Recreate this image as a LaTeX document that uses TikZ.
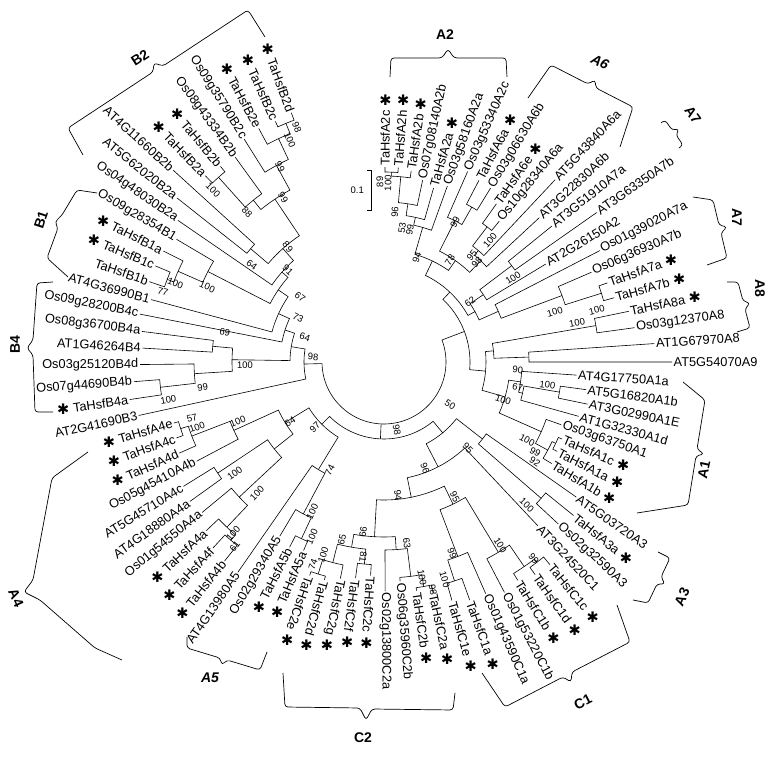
\documentclass[tikz,border=0pt]{standalone}
\usepackage{fontspec}
\setmainfont{Liberation Sans}
\newfontfamily\symfont{DejaVu Sans}
\usepackage{tikz}
\usetikzlibrary{calc}

\tikzset{
  branch/.style={line width=0.6pt},
  leaflab/.style={inner sep=1.5pt, font=\fontsize{12.8}{14}\selectfont},
  bslab/.style={inner sep=0pt, font=\fontsize{9.5}{11}\selectfont},
  starlab/.style={inner sep=0pt, font=\symfont\fontsize{14.5}{14.5}\selectfont},
  grp/.style={font=\bfseries\fontsize{14}{16}\selectfont},
  grpit/.style={font=\bfseries\itshape\fontsize{14}{16}\selectfont},
  brc/.style={line width=0.7pt, rounded corners=3pt},
}

% leaf: index, name, star (1/0), radius where the name starts
\newcommand\leaf[4]{%
  \pgfmathsetmacro\la{89.7-3.9*(#1-1)}%
  \expandafter\xdef\csname a@L#1\endcsname{\la}%
  \pgfmathsetmacro\lr{#4-2}%
  \coordinate (L#1) at ($(C)+(\la:\lr)$);
  \ifdim\la pt>-111pt
    \node[leaflab,anchor=west,rotate=\la] (T#1) at (L#1) {#2};
    \ifnum#3=1 \node[starlab] (S#1) at ($(T#1.east)!-8.5pt!(T#1.west)$) {✱};\fi
  \else
    \pgfmathsetmacro\lb{\la+180}%
    \node[leaflab,anchor=east,rotate=\lb] (T#1) at (L#1) {#2};
    \ifnum#3=1 \node[starlab] (S#1) at ($(T#1.west)!-8.5pt!(T#1.east)$) {✱};\fi
  \fi
}

% bootstrap value: node name, angle, radius, text
\newcommand\bsv[4]{%
  \pgfmathtruncatemacro\fl{cos(#2)>-0.17}%
  \ifnum\fl=1 \def\br{#2}\else\pgfmathsetmacro\br{#2+180}\fi
  \node[bslab,rotate=\br] (bs#1) at ($(C)+(#2:#3)$) {#4};
}

% clade: name, radius, first child, second child, value, value angle, value radius
\newcommand\clade[7]{%
  \pgfmathsetmacro\ca{\csname a@#3\endcsname}%
  \pgfmathsetmacro\cb{\csname a@#4\endcsname}%
  \pgfmathsetmacro\cm{(\ca+\cb)/2}%
  \expandafter\xdef\csname a@#1\endcsname{\cm}%
  \coordinate (#1) at ($(C)+(\cm:#2)$);
  \draw[branch] (#3) -- ($(C)+(\ca:#2)$) arc[start angle=\ca, end angle=\cb, radius=#2] -- (#4);
  \if\relax\detokenize{#5}\relax\else\bsv{#1}{#6}{#7}{#5}\fi
}

% extra stem from a radius to a child
\newcommand\stem[2]{%
  \pgfmathsetmacro\ca{\csname a@#2\endcsname}%
  \draw[branch] ($(C)+(\ca:#1)$) -- (#2);
}

\begin{document}
\begin{tikzpicture}[x=1pt,y=1pt]
\useasboundingbox (0,0) rectangle (780,756);
\coordinate (C) at (384,394);

% leaves
\leaf{1}{TaHsfA2c}{1}{197}
\leaf{2}{TaHsfA2h}{1}{197}
\leaf{3}{TaHsfA2b}{1}{195}
\leaf{4}{Os07g08140A2b}{0}{188}
\leaf{5}{TaHsfA2a}{1}{183}
\leaf{6}{Os03g58160A2a}{0}{189}
\leaf{7}{Os03g53340A2c}{0}{210}
\leaf{8}{TaHsfA6a}{1}{207}
\leaf{9}{Os03g06630A6b}{0}{206}
\leaf{10}{TaHsfA6e}{1}{196}
\leaf{11}{Os10g28340A6a}{0}{184}
\leaf{12}{AT5G43840A6a}{0}{252}
\leaf{13}{AT3G22830A6b}{0}{214}
\leaf{14}{AT3G51910A7a}{0}{218}
\leaf{15}{AT3G63350A7b}{0}{262}
\leaf{16}{AT2G26150A2}{0}{191}
\leaf{17}{Os01g39020A7a}{0}{245}
\leaf{18}{Os06g36930A7b}{0}{228}
\leaf{19}{TaHsfA7a}{1}{239}
\leaf{20}{TaHsfA7b}{1}{241}
\leaf{21}{TaHsfA8a}{1}{252}
\leaf{22}{Os03g12370A8}{0}{255}
\leaf{23}{AT1G67970A8}{0}{273}
\leaf{24}{AT5G54070A9}{0}{290}
\leaf{25}{AT4G17750A1a}{0}{195}
\leaf{26}{AT5G16820A1b}{0}{206}
\leaf{27}{AT3G02990A1E}{0}{210}
\leaf{28}{AT1G32330A1d}{0}{204}
\leaf{29}{Os03g63750A1}{0}{190}
\leaf{30}{TaHsfA1c}{1}{196}
\leaf{31}{TaHsfA1a}{1}{197}
\leaf{32}{TaHsfA1b}{1}{198}
\leaf{33}{AT5G03720A3}{0}{237}
\leaf{34}{TaHsfA3a}{1}{246}
\leaf{35}{Os02g32590A3}{0}{240}
\leaf{36}{AT3G24520C1}{0}{227}
\leaf{37}{TaHsfC1c}{1}{264}
\leaf{38}{TaHsfC1d}{1}{263}
\leaf{39}{TaHsfC1b}{1}{258}
\leaf{40}{Os01g53220C1b}{0}{262}
\leaf{41}{Os01g43590C1a}{0}{255}
\leaf{42}{TaHsfC1a}{1}{255}
\leaf{43}{TaHsfC1e}{1}{250}
\leaf{44}{TaHsfC2a}{1}{238}
\leaf{45}{TaHsfC2b}{1}{233}
\leaf{46}{Os06g35960C2b}{0}{222}
\leaf{47}{Os02g13800C2a}{0}{231}
\leaf{48}{TaHsfC2c}{1}{216}
\leaf{49}{TaHsfC2f}{1}{220}
\leaf{50}{TaHsfC2g}{1}{223}
\leaf{51}{TaHsfC2d}{1}{228}
\leaf{52}{TaHsfC2e}{1}{228}
\leaf{53}{TaHsfA5a}{1}{207}
\leaf{54}{TaHsfA5b}{1}{210}
\leaf{55}{Os02g29340A5}{0}{205}
\leaf{56}{AT4G13980A5}{0}{258}
\leaf{57}{TaHsfA4b}{1}{257}
\leaf{58}{TaHsfA4f}{1}{255}
\leaf{59}{TaHsfA4a}{1}{247}
\leaf{60}{Os01g54550A4a}{0}{238}
\leaf{61}{AT4G18880A4a}{0}{241}
\leaf{62}{AT5G45710A4c}{0}{238}
\leaf{63}{Os05g45410A4b}{0}{214}
\leaf{64}{TaHsfA4d}{1}{226}
\leaf{65}{TaHsfA4c}{1}{223}
\leaf{66}{TaHsfA4e}{1}{221}
\leaf{67}{AT2G41690B3}{0}{253}
\leaf{68}{TaHsfB4a}{1}{259}
\leaf{69}{Os07g44690B4b}{0}{253}
\leaf{70}{Os03g25120B4d}{0}{246}
\leaf{71}{AT1G46264B4}{0}{244}
\leaf{72}{Os08g36700B4a}{0}{246}
\leaf{73}{Os09g28200B4c}{0}{251}
\leaf{74}{AT4G36990B1}{0}{243}
\leaf{75}{TaHsfB1b}{0}{250}
\leaf{76}{TaHsfB1c}{1}{250}
\leaf{77}{TaHsfB1a}{1}{249}
\leaf{78}{Os09g28354B1}{0}{243}
\leaf{79}{Os04g48030B2a}{0}{252}
\leaf{80}{AT5G62020B2a}{0}{266}
\leaf{81}{AT4G11660B2b}{0}{287}
\leaf{82}{TaHsfB2a}{1}{260}
\leaf{83}{TaHsfB2b}{1}{257}
\leaf{84}{Os08g43334B2b}{0}{255}
\leaf{85}{Os09g35790B2c}{0}{265}
\leaf{86}{TaHsfB2e}{1}{267}
\leaf{87}{TaHsfB2c}{1}{266}
\leaf{88}{TaHsfB2d}{1}{268}

% A2 / A6 / A7
\clade{n89}{190}{L1}{L2}{89}{91.3}{180}
\clade{n100a}{186}{n89}{L3}{100}{88.7}{179}
\clade{n96}{160}{n100a}{L4}{96}{85.8}{150}
\clade{n99}{148}{n96}{L5}{99}{78.9}{134.5}
\clade{n53}{140}{n99}{L6}{53}{82.3}{135}
\clade{m1}{178}{L8}{L9}{}{}{}
\clade{m2}{158}{L7}{m1}{99}{63.1}{157}
\clade{m3}{170}{L10}{L11}{100}{49}{161.6}
\clade{m4}{146}{m3}{L12}{95}{50.6}{138.5}
\clade{m5}{140}{m4}{L13}{98}{47.1}{136.5}
\clade{m6}{124}{m2}{m5}{78}{57.1}{121.5}
\clade{m7}{112}{n53}{m6}{94}{72.6}{110}
\clade{g2}{160}{L14}{L15}{100}{33.1}{154}
\clade{g4}{120}{g2}{L16}{}{}{}
\clade{f1}{228}{L19}{L20}{100}{13.7}{219}
\clade{f2}{190}{L18}{f1}{100}{16.3}{178}
\clade{f3}{125}{L17}{f2}{}{}{}
\clade{g5}{104}{g4}{f3}{62}{34.9}{105}
\clade{k1}{96}{m7}{g5}{}{}{}

% A8 / A9 / A1
\clade{e2}{215}{L21}{L22}{100}{11.4}{197}
\clade{e1}{145}{L23}{L24}{}{}{}
\clade{e3}{110}{e2}{e1}{}{}{}
\clade{d4}{178}{L26}{L27}{100}{-8}{165}
\clade{d5}{142}{d4}{L28}{67}{-10.6}{136}
\clade{d6}{138}{L25}{d5}{90}{-3.4}{134}
\clade{d1}{190}{L30}{L31}{99}{-30.8}{176}
\clade{d2}{186}{d1}{L32}{92}{-33.5}{181}
\clade{d3}{172}{L29}{d2}{100}{-28.6}{163}
\clade{d7}{126}{d6}{d3}{100}{-17.7}{125}
\clade{e4}{102}{e3}{d7}{}{}{}
\clade{k2}{86}{k1}{e4}{}{}{}

% A3 / C1 / C2
\clade{c17}{208}{L34}{L35}{100}{-45}{202}
\clade{c18}{125}{L33}{c17}{95}{-45.7}{120}
\clade{c11}{252}{L37}{L38}{99}{-52.7}{247}
\clade{c12}{248}{c11}{L39}{}{}{}
\clade{c13}{222}{c12}{L40}{100}{-57.6}{217}
\clade{c9}{230}{L42}{L43}{100}{-74.4}{226}
\clade{c10}{208}{L41}{c9}{99}{-70.4}{203}
\clade{c14}{158}{c13}{c10}{95}{-62.3}{152.5}
\clade{c5}{228}{L44}{L45}{98}{-77.9}{233}
\clade{c6}{216}{c5}{L46}{100}{-80}{219}
\clade{c7}{188}{c6}{L47}{63}{-82.8}{182.5}
\clade{c3}{203}{L48}{L49}{81}{-96.1}{196}
\clade{c1}{222}{L51}{L52}{74}{-109.3}{215}
\clade{c2}{207}{L50}{c1}{100}{-107.5}{202}
\clade{c4}{188}{c3}{c2}{65}{-103.3}{183}
\clade{c8}{175}{c7}{c4}{99}{-97}{171}
\clade{c15}{138}{c14}{c8}{94}{-84}{134}
\clade{c16}{118}{L36}{c15}{96}{-68.9}{114}
\clade{c19}{92}{c18}{c16}{50}{-33.1}{79}

% A4 / A5
\clade{a1}{214}{L65}{L66}{57}{-163.7}{200}
\clade{a2}{206}{L64}{a1}{100}{-160.8}{198}
\clade{a3}{165}{L63}{a2}{100}{-157.7}{158}
\clade{a5}{235}{L57}{L58}{61}{-128.9}{237.5}
\clade{a6}{228}{a5}{L59}{100}{-131.4}{228}
\clade{a7}{198}{a6}{L60}{100}{-134.1}{182.5}
\clade{a8}{200}{L61}{L62}{100}{-143.3}{186}
\clade{a9}{140}{a7}{a8}{}{}{}
\clade{a10}{116}{a9}{a3}{64}{-147.4}{111.5}
\clade{a11}{195}{L53}{L54}{100}{-112.4}{189}
\clade{a12}{172}{a11}{L55}{100}{-115.6}{166}
\clade{a13}{126}{a12}{L56}{74}{-116.6}{121}
\clade{a14}{88}{a13}{a10}{97}{-136.7}{95}
\clade{c20}{77}{c19}{a14}{98}{-79.2}{69}

% B
\clade{b1}{258}{L87}{L88}{98}{110.4}{250}
\clade{b2}{247}{L86}{b1}{100}{113}{241}
\clade{b3}{224}{L85}{b2}{99}{118.1}{221}
\clade{b4}{248}{L82}{L83}{100}{134.8}{242.5}
\clade{b5}{208}{b4}{L84}{88}{132.4}{203}
\clade{b6}{196}{b5}{b3}{99}{121.5}{193}
\clade{b7}{175}{L80}{L81}{64}{143.7}{164}
\clade{b8}{152}{b7}{b6}{89}{129.9}{150}
\clade{b9}{136}{L79}{b8}{91}{136.2}{133}
\clade{b10}{232}{L75}{L76}{77}{162.4}{232}
\clade{b11}{225}{b10}{L77}{100}{159.3}{223}
\clade{b12}{198}{b11}{L78}{100}{157}{192}
\clade{bB}{128}{b12}{b9}{}{}{}
\clade{b13}{116}{L74}{bB}{67}{142.3}{106}
\clade{b14}{104}{L73}{b13}{73}{152.9}{96.6}
\clade{b15}{225}{L68}{L69}{100}{-170}{219}
\clade{b16}{190}{b15}{L70}{99}{-172.1}{183}
\clade{b17}{172}{L71}{L72}{69}{169.3}{162}
\clade{b18}{152}{b16}{b17}{100}{-178.8}{139}
\clade{b20}{94}{b18}{b14}{64}{162.4}{83}
\clade{b21}{80}{L67}{b20}{98}{176}{71}

% root
\clade{R}{62}{b21}{k2}{}{}{}
\stem{62}{c20}

% scale bar
\draw[branch] (367,586) -- (371,586) -- (371,546) -- (367,546);
\node[bslab,anchor=east] (scl) at (364,566) {0.1};

% group braces
\draw[brc] (390,679) -- (391,698) -- (442,698) -- (448,707) -- (454,698) -- (506,698) -- (507,679);
\node[grp] (gA2) at (445,721) {A2};
\draw[brc] (528,658) -- (551,691) -- (588,672) -- (595,676) -- (596,668) -- (633,649) -- (620,609);
\node[grpit,rotate=-27] (gA6) at (600,694) {A6};
\draw[brc] (661,633) -- (665,636) -- (672,626) -- (679,627) -- (676,621) -- (683,611) -- (679,608);
\node[grp,rotate=-55] (gA7a) at (693,641) {A7};
\draw[brc] (693,559) -- (713,556) -- (719,531) -- (727,529) -- (721,523) -- (727,498) -- (707,491);
\node[grp,rotate=-90] (gA7b) at (737,539) {A7};
\draw[brc] (727,474) -- (738,474) -- (743,455) -- (750,453) -- (745,447) -- (750,428) -- (737,424);
\node[grp,rotate=-90] (gA8) at (760,468) {A8};
\draw[brc] (683,374) -- (705,356) -- (697,307) -- (704,302) -- (696,300) -- (688,251) -- (637,243);
\node[grp,rotate=78] (gA1) at (704,286) {A1};
\draw[brc] (658,204) -- (670,198) -- (661,179) -- (665,172) -- (657,172) -- (648,153) -- (633,156);
\node[grp,rotate=65] (gA3) at (682,159) {A3};
\draw[brc] (617,151) -- (630,114) -- (572,84) -- (571,74) -- (563,79) -- (505,49) -- (482,83);
\node[grp,rotate=27] (gC1) at (583,54) {C1};
\draw[brc] (455,63) -- (453,46) -- (372,47) -- (366,36) -- (360,48) -- (285,49) -- (283,83);
\node[grp] (gC2) at (363,18) {C2};
\draw[brc] (267,104) -- (260,86) -- (227,96) -- (222,91) -- (220,98) -- (187,108) -- (187,119);
\node[grpit] (gA5) at (210,78) {A5};
\draw[brc] (88,304) -- (52,278) -- (33,176) -- (24,164) -- (40,156) -- (95,108) -- (122,96);
\node[grp,rotate=-65] (gA4) at (16,158) {A4};
\draw[brc] (53,474) -- (37,473) -- (33,416) -- (27,408) -- (33,401) -- (35,344) -- (53,344);
\node[grp,rotate=90] (gB4) at (15,411) {B4};
\draw[brc] (97,563) -- (77,566) -- (62,541) -- (55,534) -- (58,528) -- (47,498) -- (68,479);
\node[grp,rotate=72] (gB1) at (41,536) {B1};
\draw[brc] (265,719) -- (248,746) -- (163,690) -- (154,693) -- (153,684) -- (68,628) -- (83,601);
\node[grp,rotate=33] (gB2) at (140,698) {B2};
\end{tikzpicture}
\end{document}
